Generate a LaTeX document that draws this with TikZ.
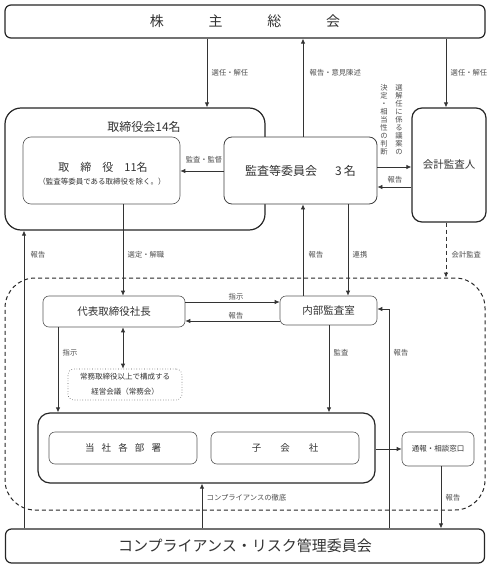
\documentclass[tikz,border=0pt]{standalone}
\usepackage{fontspec}
\setmainfont{Noto Sans CJK JP}
\usetikzlibrary{arrows.meta}
\begin{document}
\begin{tikzpicture}[x=1pt,y=-1pt,
  bigbox/.style={draw=black!85, line width=1.2pt, rounded corners=#1, inner sep=0pt, fill=white},
  bigbox/.default=6pt,
  thinbox/.style={draw=black!65, line width=0.6pt, rounded corners=#1, inner sep=0pt, fill=white},
  thinbox/.default=6pt,
  conn/.style={draw=black!80, line width=0.8pt, -{Latex[length=5pt,width=4.5pt]}},
  lbl/.style={font=\fontsize{7.3}{7.3}\selectfont, text=black!70, inner sep=0.5pt},
  txt/.style={text=black!80, inner sep=0pt},
  ]
\useasboundingbox (0,0) rectangle (490,567);

% column / row helper coordinates
\coordinate (c24) at (24,0);
\coordinate (c58) at (58,0);
\coordinate (c123) at (123,0);
\coordinate (c202) at (202,0);
\coordinate (c207) at (207,0);
\coordinate (c303) at (303,0);
\coordinate (c329) at (329,0);
\coordinate (c348) at (348,0);
\coordinate (c389) at (389,0);
\coordinate (c441) at (441,0);
\coordinate (c446) at (446,0);
\coordinate (r167) at (0,167);
\coordinate (r171) at (0,171);
\coordinate (r187) at (0,187);
\coordinate (r302) at (0,302);
\coordinate (r309) at (0,309);
\coordinate (r321) at (0,321);
\coordinate (r449) at (0,449);

% group dashed box
\node[draw=black!85, line width=1pt, dash pattern=on 4pt off 3pt, rounded corners=30pt,
      minimum width=480pt, minimum height=232pt, inner sep=0pt] (grp) at (245,394) {};

% shareholders meeting
\node[bigbox=6pt, minimum width=480pt, minimum height=33pt, txt, font=\fontsize{14}{14}\selectfont]
  (gm) at (245,21.5) {株\hspace{3.2em}主\hspace{3.2em}総\hspace{3.2em}会};

% board
\node[bigbox=16pt, minimum width=260pt, minimum height=122pt] (board) at (135,169) {};
\node[txt, font=\fontsize{12}{12}\selectfont] (boardt) at (144,127) {取締役会14名};

\node[thinbox=8pt, minimum width=157pt, minimum height=67pt] (dir) at (101.5,170.5) {};
\node[txt, font=\fontsize{11}{11}\selectfont] (dirt) at (103,167) {取\hspace{1em}締\hspace{1em}役\hspace{1em}11名};
\node[txt, font=\fontsize{7.5}{7.5}\selectfont] (dirs) at (102,182) {（監査等委員である取締役を除く。）};

% audit committee
\node[draw=black!75, line width=0.8pt, rounded corners=8pt, fill=white, inner sep=0pt,
      minimum width=153pt, minimum height=67pt, txt, font=\fontsize{12}{12}\selectfont]
  (com) at (300.5,170.5) {監査等委員会\hspace{1.5em}3\,名};

% accounting auditor
\node[bigbox=10pt, minimum width=74pt, minimum height=114pt, txt, font=\fontsize{10.5}{10.5}\selectfont]
  (aud) at (449,165) {会計監査人};

% president
\node[thinbox=6pt, minimum width=142pt, minimum height=31pt, txt, font=\fontsize{10.5}{10.5}\selectfont]
  (pres) at (114,311.5) {代表取締役社長};
% internal audit
\node[thinbox=6pt, minimum width=97pt, minimum height=29pt, txt, font=\fontsize{10.5}{10.5}\selectfont]
  (ia) at (328.5,310.5) {内部監査室};
% management meeting
\node[draw=black!65, line width=0.6pt, dotted, rounded corners=6pt, inner sep=0pt,
      minimum width=114pt, minimum height=31pt, txt, align=center, font=\fontsize{7.5}{15}\selectfont]
  (mtg) at (125,384.5) {常務取締役以上で構成する\\経営会議（常務会）};

% operating units
\node[bigbox=12pt, minimum width=337pt, minimum height=70pt] (ops) at (206.5,448) {};
\node[thinbox=6pt, minimum width=148pt, minimum height=32pt, txt, font=\fontsize{9.5}{9.5}\selectfont]
  (dept) at (123,448) {当\hspace{0.75em}社\hspace{0.75em}各\hspace{0.75em}部\hspace{0.75em}署};
\node[thinbox=6pt, minimum width=148pt, minimum height=32pt, txt, font=\fontsize{9.5}{9.5}\selectfont]
  (sub) at (285,448) {子\hspace{2em}会\hspace{2em}社};

% whistleblowing desk
\node[thinbox=6pt, minimum width=72pt, minimum height=34pt, txt, font=\fontsize{7.5}{7.5}\selectfont]
  (win) at (438,449) {通報・相談窓口};

% compliance committee
\node[bigbox=6pt, minimum width=479pt, minimum height=34pt, txt, font=\fontsize{15}{15}\selectfont]
  (bot) at (245,546) {コンプライアンス・リスク管理委員会};

% ---- connectors ----
\draw[conn] (gm.south -| c207) -- (board.north -| c207);
\node[lbl, anchor=west] (l1) at (211,73) {選任・解任};

\draw[conn] (com.north -| c303) -- (gm.south -| c303);
\node[lbl, anchor=west] (l2) at (309,73) {報告・意見陳述};

\draw[conn] (gm.south -| c446) -- (aud.north -| c446);
\node[lbl, anchor=west] (l3) at (450,73) {選任・解任};

\node[lbl, anchor=north, align=center, font=\fontsize{7.3}{8}\selectfont] (v1) at (399,84)
  {選\\解\\任\\に\\係\\る\\議\\案\\の};
\node[lbl, anchor=north, align=center, font=\fontsize{7.3}{8}\selectfont] (v2) at (384,84)
  {決\\定\\・\\相\\当\\性\\の\\判\\断};

\draw[conn] (com.west |- r171) -- (dir.east |- r171);
\node[lbl] (l4) at (204,160) {監査・監督};

\draw[conn] (com.east |- r167) -- (aud.west |- r167);
\draw[conn] (aud.west |- r187) -- (com.east |- r187);
\node[lbl] (l5) at (395,180) {報告};

\draw[conn, dash pattern=on 4pt off 3pt] (aud.south -| c446) -- (grp.north -| c446);
\node[lbl, anchor=west] (l6) at (451,255) {会計監査};

\draw[conn] (bot.north -| c24) -- (board.south -| c24);
\node[lbl, anchor=west] (l7) at (30,255) {報告};

\draw[conn] (dir.south -| c123) -- (pres.north -| c123);
\node[lbl, anchor=west] (l8) at (127,255) {選定・解職};

\draw[conn] (ia.north -| c303) -- (com.south -| c303);
\node[lbl, anchor=west] (l9) at (308,255) {報告};

\draw[conn] (com.south -| c348) -- (ia.north -| c348);
\node[lbl, anchor=west] (l10) at (352,255) {連携};

\draw[conn] (pres.east |- r302) -- (ia.west |- r302);
\node[lbl] (l11) at (236,297) {指示};
\draw[conn] (ia.west |- r321) -- (pres.east |- r321);
\node[lbl] (l12) at (236,316) {報告};

\draw[conn] (pres.south -| c58) -- (ops.north -| c58);
\node[lbl, anchor=west] (l13) at (62,353) {指示};

\draw[draw=black!80, line width=0.8pt, {Latex[length=5pt,width=4.5pt]}-{Latex[length=5pt,width=4.5pt]}]
  (pres.south -| c123) -- (mtg.north -| c123);

\draw[conn] (ia.south -| c329) -- (ops.north -| c329);
\node[lbl, anchor=west] (l14) at (333,353) {監査};

\draw[conn] (bot.north -| c389) |- (ia.east |- r309);
\node[lbl, anchor=west] (l15) at (393,353) {報告};

\draw[conn] (ops.east |- r449) -- (win.west |- r449);

\draw[conn] (win.south -| c441) -- (bot.north -| c441);
\node[lbl, anchor=west] (l16) at (445,498) {報告};

\draw[conn] (bot.north -| c202) -- (ops.south -| c202);
\node[lbl, anchor=west] (l17) at (206,498) {コンプライアンスの徹底};
\end{tikzpicture}
\end{document}
